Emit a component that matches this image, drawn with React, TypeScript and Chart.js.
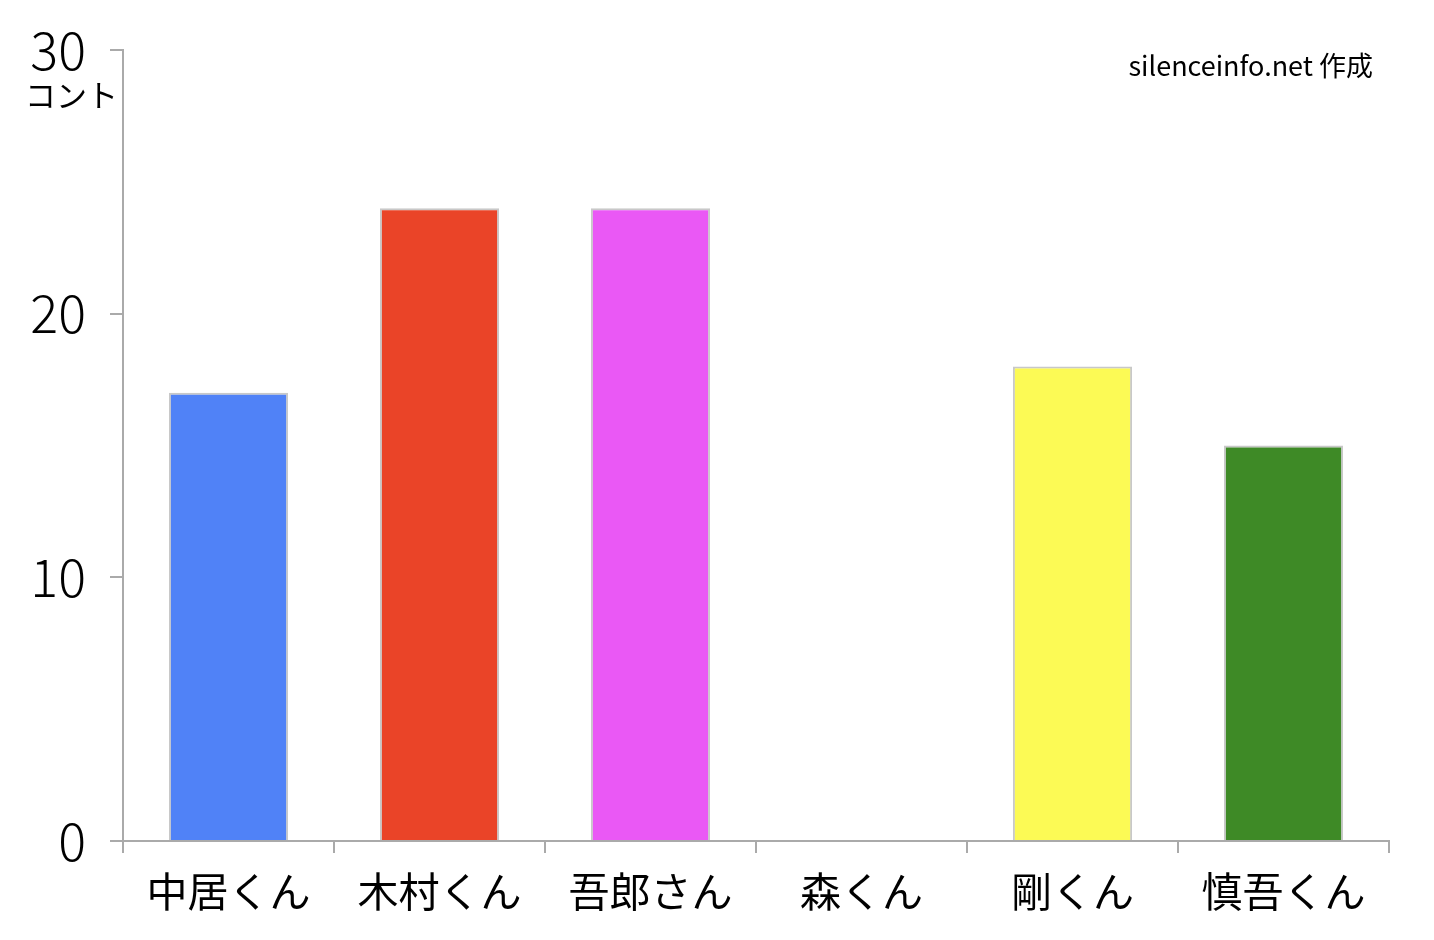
import React, { useEffect, useRef } from "react";
import Chart from "chart.js/auto";

// chart data
const members = ["中居くん", "木村くん", "吾郎さん", "森くん", "剛くん", "慎吾くん"];
const contCounts = [17, 24, 24, 0, 18, 15];
const barColors = ["#5082F7", "#EA4428", "#EA58F5", "#FFFFFF", "#FCFA55", "#3E8A26"];
const yTicks = [0, 10, 20, 30];
const unitLabel = "コント";
const creditText = "silenceinfo.net 作成";

const FONT = '"Noto Sans CJK JP", "Noto Sans", sans-serif';

// draws the unit under the top tick and the credit in the corner
const overlayText = {
  id: "overlayText",
  afterDraw(chart: any) {
    const { ctx, scales } = chart;
    const y = scales.y;
    ctx.save();
    ctx.fillStyle = "#000";
    ctx.font = `31px ${FONT}`;
    ctx.textAlign = "left";
    ctx.textBaseline = "middle";
    ctx.fillText(unitLabel, 25, y.getPixelForValue(30) + 45);
    ctx.font = `27px ${FONT}`;
    ctx.textAlign = "right";
    ctx.fillText(creditText, 1373, 66);
    ctx.restore();
  },
};

const App: React.FC = () => {
  const canvasRef = useRef<HTMLCanvasElement>(null!);

  useEffect(() => {
    document.body.style.margin = "0";
    const canvas = canvasRef.current;
    Chart.getChart(canvas)?.destroy();

    const chart = new Chart(canvas, {
      type: "bar",
      data: {
        labels: members,
        datasets: [
          {
            data: contCounts,
            backgroundColor: barColors,
            borderColor: "#c8c8c8",
            borderWidth: 2,
            categoryPercentage: 1,
            barPercentage: 0.565,
          },
        ],
      },
      options: {
        animation: false,
        responsive: false,
        layout: { padding: { top: 50, right: 45, left: 0, bottom: 0 } },
        plugins: {
          legend: { display: false },
          tooltip: { enabled: false },
        },
        scales: {
          x: {
            grid: {
              offset: true,
              drawOnChartArea: false,
              color: "#aaa",
              tickLength: 12,
              lineWidth: 2,
            },
            border: { color: "#aaa", width: 2 },
            ticks: {
              color: "#000",
              font: { family: FONT, size: 41 },
              padding: 14,
              maxRotation: 0,
            },
            afterFit(scale: any) {
              scale.height = 99;
            },
          },
          y: {
            min: 0,
            max: 30,
            afterBuildTicks(scale: any) {
              scale.ticks = yTicks.map((v) => ({ value: v }));
            },
            grid: {
              drawOnChartArea: false,
              color: "#aaa",
              tickLength: 13,
              lineWidth: 2,
            },
            border: { color: "#aaa", width: 2 },
            ticks: {
              color: "#000",
              font: { family: FONT, size: 52, weight: "300", lineHeight: 1 },
              padding: 24,
            },
            afterFit(scale: any) {
              scale.width = 123;
              scale.paddingTop = 0;
            },
          },
        },
      },
      plugins: [overlayText],
    });

    return () => {
      chart.destroy();
    };
  }, []);

  return <canvas ref={canvasRef} width="1434" height="940" />;
};

export default App;
